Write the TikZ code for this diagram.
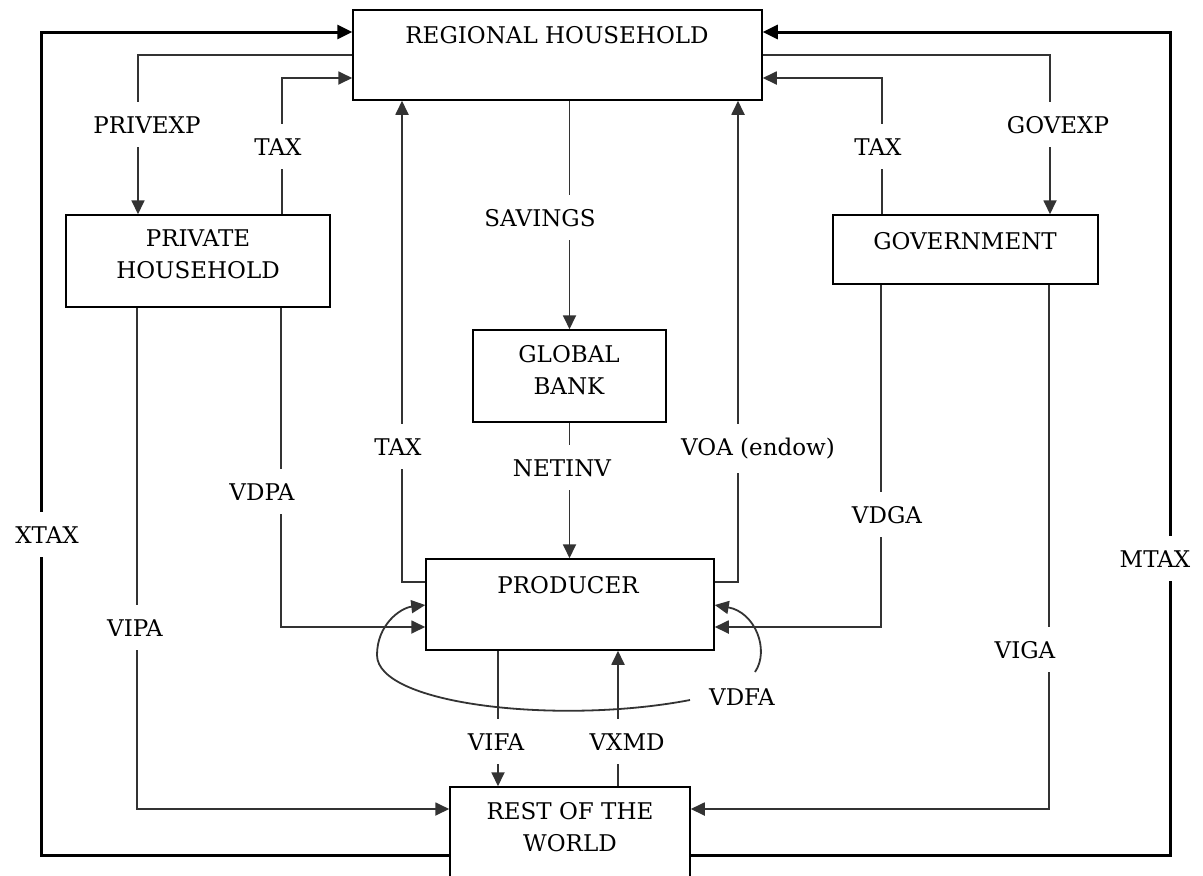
\documentclass[tikz,border=0pt]{standalone}
\usepackage{fontspec}
\setmainfont{DejaVu Serif}
\usetikzlibrary{arrows.meta}
\begin{document}
\begin{tikzpicture}[x=1pt,y=-1pt,
  box/.style={draw=black, line width=1.5pt, inner sep=0pt},
  txt/.style={font=\fontsize{23}{32}\selectfont, anchor=base, inner sep=0pt, align=center},
  lab/.style={font=\fontsize{23}{32}\selectfont, anchor=base, fill=white, inner xsep=18pt, inner ysep=14pt},
  conn/.style={draw=black!80, line width=1.8pt},
  arr/.style={conn, -{Triangle[length=14pt,width=13pt]}},
  outer/.style={draw=black, line width=3pt, -{Triangle[length=15pt,width=14pt]}},
]
\path[use as bounding box, clip] (0,0) rectangle (1203,876);
\fill[white] (0,0) rectangle (1203,876);

% boxes
\node[box, minimum width=409pt, minimum height=90pt] (rh) at (557.5,55) {};
\node[box, minimum width=264pt, minimum height=92pt] (ph) at (198,261) {};
\node[box, minimum width=265pt, minimum height=69pt] (gov) at (965.5,249.5) {};
\node[box, minimum width=193pt, minimum height=92pt] (gb) at (569.5,376) {};
\node[box, minimum width=288pt, minimum height=91pt] (prod) at (570,604.5) {};
\node[box, minimum width=240pt, minimum height=113pt] (row) at (570,843.5) {};

% box texts (base anchor = baseline of last line)
\node[txt] (rht) at (557,43) {REGIONAL HOUSEHOLD};
\node[txt] (pht) at (198,278) {PRIVATE\\HOUSEHOLD};
\node[txt] (govt) at (965,249) {GOVERNMENT};
\node[txt] (gbt) at (569,394) {GLOBAL\\BANK};
\node[txt] (prodt) at (568,593) {PRODUCER};
\node[txt] (rowt) at (570,851) {REST OF THE\\WORLD};

% free ends of the VDFA curve
\coordinate (vdfaL) at (690,700);
\coordinate (vdfaT) at (755,672);

% connectors
\draw[outer] (row.west |- 0,855) -| (41,32) -- (rh.west |- 0,32);
\draw[outer] (row.east |- 0,855) -| (1170,32) -- (rh.east |- 0,32);

\draw[arr] (rh.west |- 0,55) -| (ph.north -| 138,0);
\draw[arr] (ph.north -| 282,0) |- (rh.west |- 0,78);
\draw[arr] (rh.east |- 0,55) -| (gov.north -| 1050,0);
\draw[arr] (gov.north -| 882,0) |- (rh.east |- 0,78);

\draw[arr] (rh.south -| gb.north) -- (gb.north);
\draw[arr] (gb.south) -- (gb.south |- prod.north);

\draw[arr] (prod.west |- 0,582) -| (rh.south -| 402,0);
\draw[arr] (prod.east |- 0,582) -| (rh.south -| 738,0);

\draw[arr] (ph.south -| 281,0) |- (prod.west |- 0,627);
\draw[arr] (gov.south -| 881,0) |- (prod.east |- 0,627);
\draw[arr] (ph.south -| 137,0) |- (row.west |- 0,809);
\draw[arr] (gov.south -| 1049,0) |- (row.east |- 0,809);

\draw[arr] (prod.south -| 498,0) -- (row.north -| 498,0);
\draw[arr] (row.north -| 618,0) -- (prod.south -| 618,0);

\draw[arr] (vdfaL) .. controls (560,725) and (377,705) .. (377,655) .. controls (377,625) and (400,608) .. (prod.west |- 0,605);
\draw[arr] (vdfaT) .. controls (770,650) and (755,612) .. (prod.east |- 0,605);

% labels
\node[lab] (lprivexp) at (147,133) {PRIVEXP};
\node[lab] (ltax1) at (278,155) {TAX};
\node[lab] (ltax2) at (878,155) {TAX};
\node[lab] (lgovexp) at (1058,133) {GOVEXP};
\node[lab] (lsav) at (540,226) {SAVINGS};
\node[lab] (ltax3) at (398,455) {TAX};
\node[lab] (lnetinv) at (562,476) {NETINV};
\node[lab] (lvoa) at (758,455) {VOA (endow)};
\node[lab] (lvdpa) at (262,500) {VDPA};
\node[lab] (lxtax) at (47,543) {XTAX};
\node[lab] (lvdga) at (887,523) {VDGA};
\node[lab] (lmtax) at (1155,567) {MTAX};
\node[lab] (lvipa) at (135,636) {VIPA};
\node[lab] (lviga) at (1025,658) {VIGA};
\node[lab] (lvdfa) at (742,705) {VDFA};
\node[lab] (lvifa) at (496,750) {VIFA};
\node[lab] (lvxmd) at (627,750) {VXMD};
\end{tikzpicture}
\end{document}
